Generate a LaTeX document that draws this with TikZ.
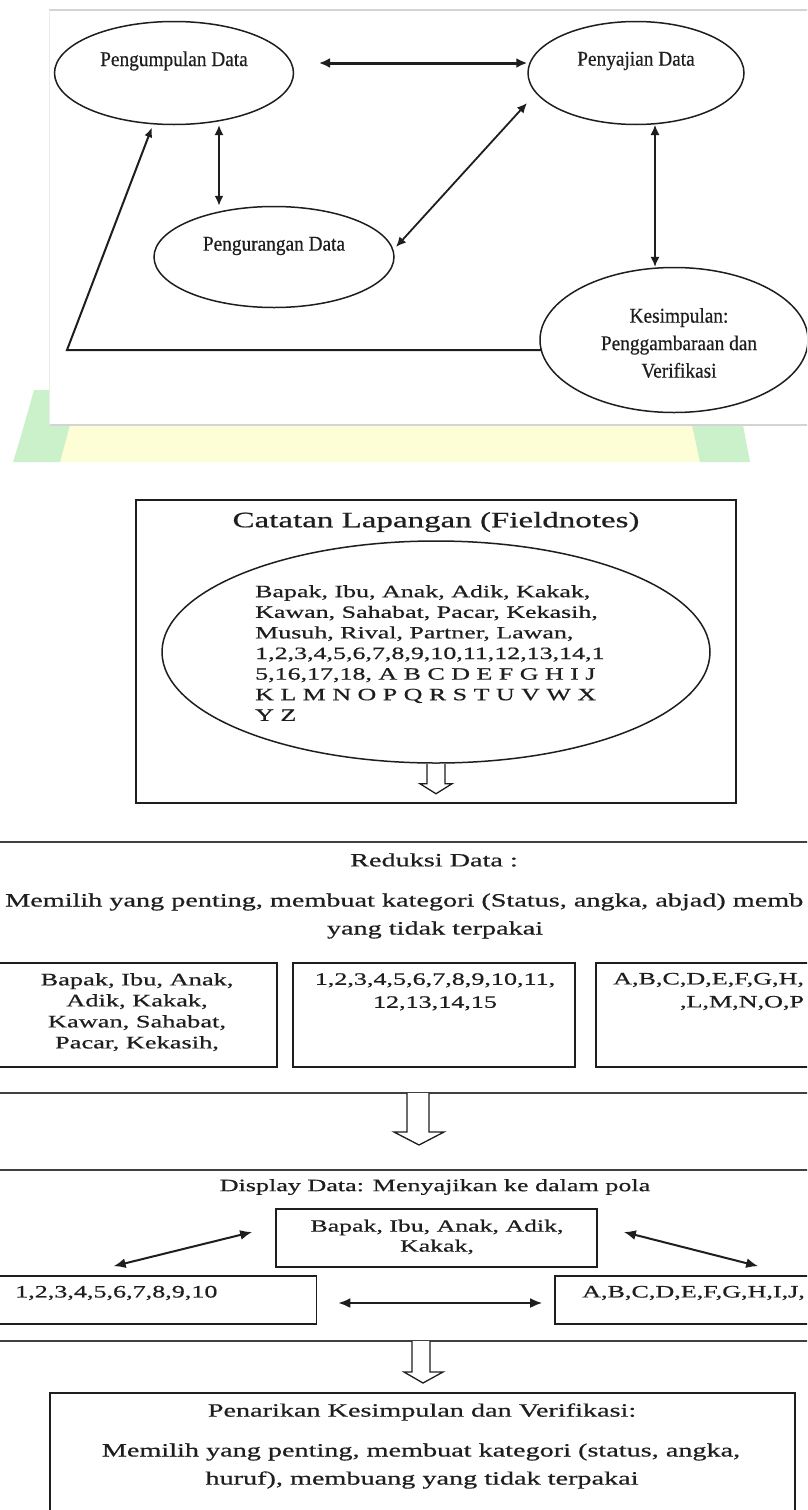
\documentclass[tikz,border=0pt]{standalone}
\usepackage{fontspec}
\setmainfont{Liberation Serif}
\newfontfamily\widefont[FakeStretch=1.5,FakeBold=0.6]{Liberation Serif}
\newfontfamily\slimfont[FakeStretch=0.92,FakeBold=0.5]{Liberation Serif}
\usetikzlibrary{arrows.meta,shapes.geometric,calc}
\definecolor{ink}{RGB}{30,30,30}
\definecolor{wmgreen}{RGB}{202,241,202}
\definecolor{wmyellow}{RGB}{253,253,214}
\definecolor{panelgray}{RGB}{212,212,212}
\begin{document}
\begin{tikzpicture}[x=1pt,y=-1pt,
  oval/.style={draw=ink,line width=1.5pt,ellipse,inner sep=0pt},
  toptext/.style={font=\slimfont\fontsize{21}{27.5}\selectfont,text=ink,inner sep=0pt,align=center},
  wt/.style={font=\widefont\fontsize{17.4}{21}\selectfont,text=ink,inner sep=0pt},
  wtbig/.style={font=\widefont\fontsize{18.8}{28}\selectfont,text=ink,inner sep=0pt},
  box/.style={draw=ink,line width=1.7pt,rectangle,inner sep=0pt},
  band/.style={draw=ink!85,line width=2.2pt},
  dbl/.style={draw=ink,line width=1.8pt,{Latex[length=10pt,width=9pt]}-{Latex[length=10pt,width=9pt]}},
  hollow/.style={draw=ink,line width=1.3pt,fill=white,line join=miter},
]
\useasboundingbox (0,0) rectangle (807,1510);
\clip (0,0) rectangle (807,1510);
\fill[white] (0,0) rectangle (807,1510);

% watermark band
\fill[wmyellow] (58,462) -- (70,425) -- (694,425) -- (702,462) -- cycle;
\fill[wmgreen] (13,462) .. controls (20,440) and (27,415) .. (34,390) -- (75,390) -- (70,425) -- (60,462) -- cycle;
\fill[wmgreen] (700,462) -- (692,425) -- (743,425) -- (750,462) -- cycle;

% top panel
\fill[white] (49,10) rectangle (812,425);
\draw[panelgray,line width=2pt] (49,10) -- (812,10);
\draw[panelgray,line width=2.4pt] (49,425) -- (812,425);
\draw[black!8,line width=0.8pt] (49,10) -- (49,425);

% top ellipses
\node[oval,minimum width=239pt,minimum height=103pt] (pg) at (174,73) {};
\node[toptext] (pgt) at (174,61) {Pengumpulan Data};
\node[oval,minimum width=216pt,minimum height=103pt] (pj) at (636,73) {};
\node[toptext] (pjt) at (636,61) {Penyajian Data};
\node[oval,minimum width=240pt,minimum height=101pt] (pr) at (274,257) {};
\node[toptext] (prt) at (274,246) {Pengurangan Data};
\node[oval,minimum width=268pt,minimum height=145pt] (ks) at (674,340) {};
\node[toptext] (kst) at (679,343) {Kesimpulan:\\Penggambaraan dan\\Verifikasi};

% top connectors
\coordinate (a1s) at (319,63);
\draw[dbl,line width=3pt,{Latex[length=11pt,width=10pt]}-{Latex[length=11pt,width=10pt]}] (a1s) -- (a1s -| pj.west);
\coordinate (a2t) at ($(pg.center)+(45,52)$);
\draw[dbl] (a2t) -- (a2t |- pr.north);
\draw[dbl] ($(pj.center)+(-109,30)$) -- ($(pr.center)+(122,-10)$);
\coordinate (a4t) at ($(pj.center)+(19,52)$);
\draw[dbl,line width=1.3pt] (a4t) -- (a4t |- ks.north);
\coordinate (fbc) at (67,350);
\draw[draw=ink,line width=2pt,-{Latex[length=10pt,width=8pt]}] ($(ks.center)+(-133,10)$) -- (fbc) -- ($(pg.south)+(-22,2)$);

% Catatan Lapangan
\node[box,minimum width=600pt,minimum height=303pt] (cat) at (436,651.5) {};
\node[wt,font=\widefont\fontsize{22}{26}\selectfont] (catt) at (436,522) {Catatan Lapangan (Fieldnotes)};
\node[oval,minimum width=548pt,minimum height=222pt] (fe) at (436,652) {};
\node[wt,align=left,font=\widefont\fontsize{17.3}{20.6}\selectfont,anchor=north west] (fet) at (255,585) {Bapak, Ibu, Anak, Adik, Kakak,\\Kawan, Sahabat, Pacar, Kekasih,\\Musuh, Rival, Partner, Lawan,\\1,2,3,4,5,6,7,8,9,10,11,12,13,14,1\\5,16,17,18, A B C D E F G H I J\\K L M N O P Q R S T U V W X\\Y Z};
\draw[hollow] ($(fe.south)+(-9,0)$) -- ++(0,20) -- ++(-7,0) -- ($(fe.south)+(0,30)$) -- ($(fe.south)+(16,20)$) -- ++(-7,0) -- ++(0,-20);

% Reduksi Data
\node[box,band,minimum width=816pt,minimum height=251pt] (red) at (403.5,967.5) {};
\node[wtbig] (redt) at (434,860) {Reduksi Data :};
\node[wtbig,anchor=west] (redl1) at (5,902) {Memilih yang penting, membuat kategori (Status, angka, abjad) memb};
\node[wtbig] (redl2) at (435,930) {yang tidak terpakai};
\node[box,minimum width=280pt,minimum height=104pt] (sb1) at (137,1015) {};
\node[wt,align=center,anchor=north,font=\widefont\fontsize{17.6}{21}\selectfont] (sb1t) at (137,973) {Bapak, Ibu, Anak,\\Adik, Kakak,\\Kawan, Sahabat,\\Pacar, Kekasih,};
\node[box,minimum width=282pt,minimum height=104pt] (sb2) at (434,1015) {};
\node[wt,align=center,anchor=north,font=\widefont\fontsize{17.4}{23}\selectfont] (sb2t) at (435,973) {1,2,3,4,5,6,7,8,9,10,11,\\12,13,14,15};
\node[box,minimum width=300pt,minimum height=104pt] (sb3) at (746,1015) {};
\node[wt,anchor=west] (sb3a) at (613,980) {A,B,C,D,E,F,G,H,};
\node[wt] (sb3b) at (742,1003) {,L,M,N,O,P};
\coordinate (h2) at (418,1093);
\draw[hollow] ($(h2)+(-11,0)$) -- ++(0,39) -- ++(-13,0) -- ($(h2)+(1,52)$) -- ($(h2)+(26,39)$) -- ++(-15,0) -- ++(0,-39);

% Display Data
\node[box,band,minimum width=816pt,minimum height=171pt] (dsp) at (403.5,1255.5) {};
\node[wt] (dspt) at (435,1187) {Display Data: Menyajikan ke dalam pola};
\node[box,minimum width=321pt,minimum height=58pt] (db1) at (436.5,1238) {};
\node[wt,align=center,font=\widefont\fontsize{17.2}{20}\selectfont] (db1t) at (437,1237) {Bapak, Ibu, Anak, Adik,\\Kakak,};
\node[box,minimum width=320pt,minimum height=48pt] (db2) at (156.5,1300) {};
\node[wt,anchor=west] (db2t) at (15,1293) {1,2,3,4,5,6,7,8,9,10};
\node[box,minimum width=260pt,minimum height=48pt] (db3) at (685,1300) {};
\node[wt,anchor=west] (db3t) at (582,1293) {A,B,C,D,E,F,G,H,I,J,};
\draw[dbl,line width=2pt,{Latex[length=12pt,width=10pt]}-{Latex[length=12pt,width=10pt]}] ($(db2.north west)+(118,-9)$) -- ($(db1.west)+(-23,-6)$);
\draw[dbl,line width=2pt,{Latex[length=12pt,width=10pt]}-{Latex[length=12pt,width=10pt]}] ($(db1.east)+(26,-6)$) -- ($(db3.north west)+(204,-9)$);
\draw[dbl,line width=2pt,{Latex[length=12pt,width=10pt]}-{Latex[length=12pt,width=10pt]}] ($(db2.east)+(21,3)$) -- ($(db3.west)+(-12,3)$);
\coordinate (h3) at (421,1341);
\draw[hollow] ($(h3)+(-9,0)$) -- ++(0,31) -- ++(-8,0) -- ($(h3)+(2,42)$) -- ($(h3)+(22,31)$) -- ++(-13,0) -- ++(0,-31);

% Penarikan Kesimpulan
\node[box,minimum width=745pt,minimum height=125pt] (pk) at (422.5,1455.5) {};
\node[wtbig] (pkt) at (422,1412) {Penarikan Kesimpulan dan Verifikasi:};
\node[wtbig] (pkl1) at (421,1452) {Memilih yang penting, membuat kategori (status, angka,};
\node[wtbig] (pkl2) at (422,1480) {huruf), membuang yang tidak terpakai};
\end{tikzpicture}
\end{document}
